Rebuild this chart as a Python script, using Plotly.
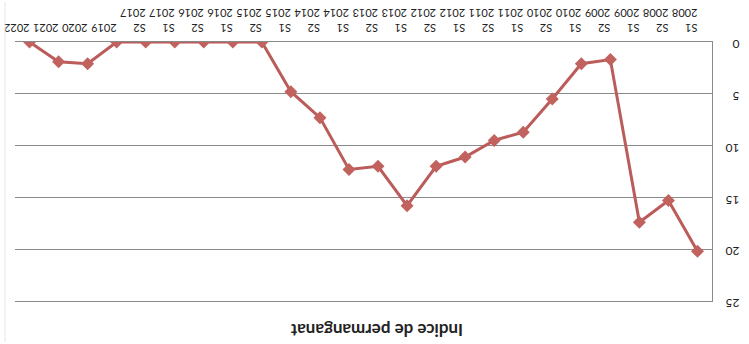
import plotly.graph_objects as go

categories = ["S1<br>2008", "S2<br>2008", "S1<br>2009", "S2<br>2009", "S1<br>2010", "S2<br>2010",
              "S1<br>2011", "S2<br>2011", "S1<br>2012", "S2<br>2012", "S1<br>2013", "S2<br>2013",
              "S1<br>2014", "S2<br>2014", "S1<br>2015", "S2<br>2015", "S1<br>2016", "S2<br>2016",
              "S1<br>2017", "S2<br>2017", "2019<br>\u00a0", "2020<br>\u00a0", "2021<br>\u00a0", "2022<br>\u00a0"]
values = [20.2, 15.3, 17.4, 1.7, 2.1, 5.5,
          8.7, 9.5, 11.1, 12.0, 15.8, 12.0,
          12.3, 7.3, 4.8, 0, 0, 0,
          0, 0, 0, 2.1, 1.9, 0]
y_ticks = [0, 5, 10, 15, 20, 25]
title_text = "Indice de permanganat"

W, H = 749, 344
ml, mr, mt, mb = 15, 37, 42, 43
pw, ph = W - ml - mr, H - mt - mb

fig = go.Figure()
fig.add_trace(go.Scatter(
    x=categories, y=values, mode="lines+markers",
    line=dict(color="#bb5c5a", width=3),
    marker=dict(symbol="diamond", size=10, color="#c2625f"),
    showlegend=False,
))

fig.update_layout(
    width=W, height=H, autosize=False,
    margin=dict(l=ml, r=mr, t=mt, b=mb, pad=0),
    paper_bgcolor="white", plot_bgcolor="white",
    font=dict(family="Lato, Open Sans, sans-serif", color="#222"),
    xaxis=dict(
        type="category", side="top", range=[len(categories) - 0.5, -0.5], automargin=False,
        tickangle=180, tickfont=dict(size=11), ticklabelstandoff=9,
        showgrid=False, showline=True, mirror=True, linecolor="#8a8a8a", linewidth=1,
        ticks="", zeroline=False,
    ),
    yaxis=dict(
        side="right", range=[25, 0], tickvals=y_ticks, automargin=False,
        tickangle=180, tickfont=dict(size=12), ticklabelstandoff=24, ticklabelshift=-6,
        showgrid=True, gridcolor="#8a8a8a", gridwidth=1,
        showline=True, linecolor="#8a8a8a", linewidth=1,
        ticks="", zeroline=False,
    ),
    annotations=[dict(
        text="<b>" + title_text + "</b>", textangle=180,
        xref="paper", yref="paper", x=(377 - ml) / pw, y=-(331 - (H - mb)) / ph,
        showarrow=False, font=dict(size=17, color="#222"),
        xanchor="center", yanchor="middle",
    )],
    shapes=[dict(type="line", xref="paper", yref="paper",
                 x0=-(ml - 5) / pw, x1=-(ml - 5) / pw, y0=-(mb - 2) / ph, y1=1 + (mt - 2) / ph,
                 line=dict(color="#e6e6e6", width=1))],
)

fig.write_html("out.html", post_script="document.body.style.margin='0';",
               config={"displayModeBar": False})
